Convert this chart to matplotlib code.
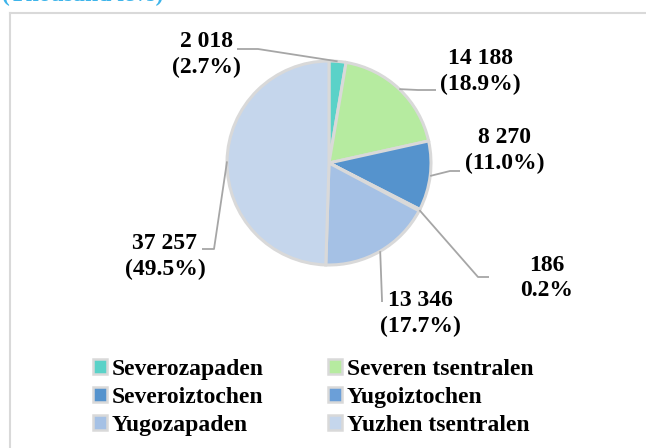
import numpy as np
import matplotlib
matplotlib.use("Agg")
import matplotlib.pyplot as plt
from matplotlib.patches import Patch
from matplotlib.lines import Line2D

regions = ["Severozapaden", "Severen tsentralen", "Severoiztochen",
           "Yugoiztochen", "Yugozapaden", "Yuzhen tsentralen"]
values = [2018, 14188, 8270, 186, 13346, 37257]
value_labels = ["2 018", "14 188", "8 270", "186", "13 346", "37 257"]
pct_labels = ["(2.7%)", "(18.9%)", "(11.0%)", "0.2%", "(17.7%)", "(49.5%)"]
colors = ["#5AD2C8", "#B6EBA0", "#5593CD", "#6B9FD8", "#A5C1E5", "#C5D6EC"]

W, H = 646, 448
CX, CY, R = 329, 163, 102  # pie centre (pixels from top-left) and radius

fig = plt.figure(figsize=(W / 100, H / 100), dpi=100)
ax = fig.add_axes([0, 0, 1, 1])

def px(x, y):
    return ((x - CX) / R, (CY - y) / R)

wedges, _ = ax.pie(values, colors=colors, startangle=90, counterclock=False,
                   radius=1.0, center=(0, 0),
                   wedgeprops=dict(edgecolor="#D9D9D9", linewidth=2.2))
ax.set_xlim(-CX / R, (W - CX) / R)
ax.set_ylim((CY - H) / R, CY / R)
ax.set_aspect("equal")
ax.axis("off")

# label centres and leader elbows (pixel coords)
label_pos = [(206, 55), (480, 72), (505, 151), (547, 278), (420, 314), (165, 257)]
elbows = [[(258, 49), (237, 49)],
          [(418, 90), (436, 90)],
          [(450, 171), (460, 171)],
          [(478, 277), (489, 277)],
          [(382, 300), (382, 302)],
          [(214, 249), (202, 249)]]

font = dict(family="Liberation Serif", fontweight="bold", fontsize=17)
for w, lv, lp, pos, elb in zip(wedges, value_labels, pct_labels, label_pos, elbows):
    ang = np.deg2rad((w.theta1 + w.theta2) / 2)
    x0, y0 = np.cos(ang), np.sin(ang)
    pts = [(x0, y0)] + [px(*p) for p in elb]
    xs, ys = zip(*pts)
    ax.plot(xs, ys, color="#A6A6A6", lw=1.3, solid_capstyle="butt", zorder=1)
    tx, ty = px(*pos)
    ax.text(tx, ty, lv + "\n" + lp, ha="center", va="center",
            linespacing=1.3, color="black", **font)

# legend (row-major order as in reference)
handles = [Patch(facecolor=c, edgecolor="#D9D9D9", linewidth=1.8) for c in colors]
order = [0, 2, 4, 1, 3, 5]
leg = fig.legend([handles[i] for i in order], [regions[i] for i in order],
                 ncol=2, loc="upper left", bbox_to_anchor=(93 / W, 1 - 359 / H),
                 frameon=False, handlelength=0.6, handleheight=0.6,
                 handletextpad=0.2, columnspacing=2.7, labelspacing=0.3,
                 borderaxespad=0, borderpad=0,
                 prop=dict(family="Liberation Serif", weight="bold", size=17))

# outer frame (left and top visible)
fig.add_artist(Line2D([9.5 / W, 9.5 / W], [0, 1 - 13 / H], color="#D9D9D9", lw=1.5,
                      transform=fig.transFigure))
fig.add_artist(Line2D([9.5 / W, 1], [1 - 13 / H, 1 - 13 / H], color="#D9D9D9", lw=1.5,
                      transform=fig.transFigure))

# cut-off unit caption at top
fig.text(2 / W, 1 - 1 / H, "(Thousand levs)", color="#3DB4EA", fontsize=17,
         family="Liberation Serif", fontweight="bold", ha="left", va="baseline")

fig.savefig("out.png", dpi=100, facecolor="white")
